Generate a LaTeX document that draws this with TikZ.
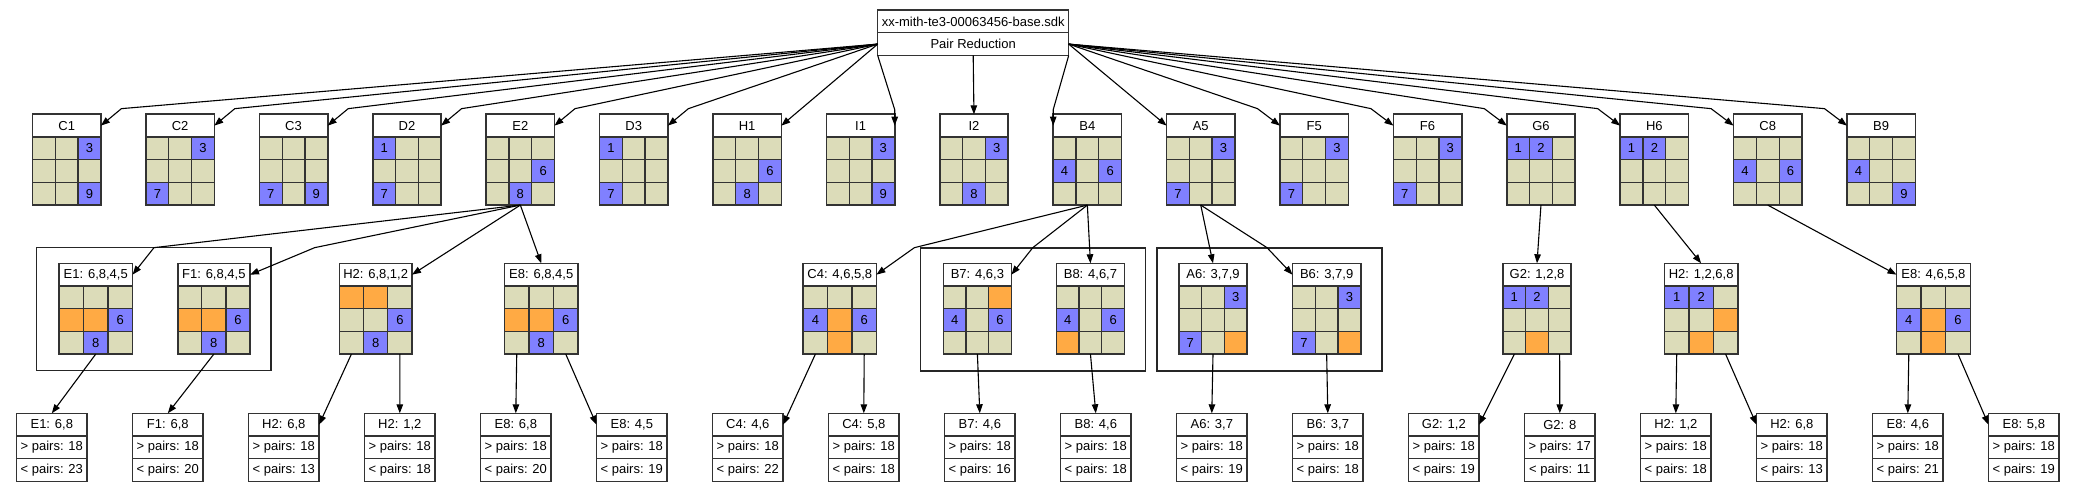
\documentclass[tikz,border=0pt]{standalone}
\usepackage{fontspec}
\setmainfont{Liberation Sans}
\usetikzlibrary{arrows.meta}

\definecolor{sand}{HTML}{DCDCB9}
\definecolor{clue}{HTML}{8080FF}
\definecolor{pair}{HTML}{FFAA44}
\definecolor{rim}{HTML}{333333}

\newcommand{\sdkboard}[6]{%
  \node[head, minimum width=#4pt] (#1-h) at ({#2+#4/2},{#3+11.35}) {#5};
  \foreach \f/\l [count=\i from 0] in {#6} {
    \pgfmathtruncatemacro\col{mod(\i,3)}
    \pgfmathtruncatemacro\row{div(\i,3)}
    \node[cell, fill=\f, minimum width=#4pt/3] (#1-\i)
      at ({#2+(\col+0.5)*#4/3},{#3+22.7+(\row+0.5)*22.7}) {\l};
  }
  \node[board, minimum width=#4pt] (#1) at ({#2+#4/2},{#3+45.4}) {};
}

\newcommand{\sdkleaf}[6]{%
  \node[head, minimum width=70.6pt] (#1) at ({#2+35.3},{#3+11.35}) {#4};
  \node[head, minimum width=70.6pt, anchor=north] (#1-gt) at (#1.south) {> pairs: #5};
  \node[head, minimum width=70.6pt, anchor=north] (#1-lt) at (#1-gt.south) {< pairs: #6};
}

\begin{document}
\begin{tikzpicture}[x=1pt, y=-1pt,
    every node/.style={font=\fontsize{13}{15}\selectfont},
    head/.style={draw=rim, fill=white, line width=1.4pt, minimum height=22.7pt, inner sep=0pt, outer sep=0pt},
    cell/.style={draw=rim, line width=1.3pt, minimum height=22.7pt, inner sep=0pt, outer sep=0pt},
    board/.style={draw=rim, line width=1.6pt, minimum height=90.8pt, inner sep=0pt, outer sep=0pt},
    cluster/.style={draw=black!85, line width=1.4pt},
    link/.style={draw=black, line width=1.1pt, -{Triangle[length=9pt, width=6.5pt]}}]
\useasboundingbox (0,0) rectangle (2075,492);

\node[head, minimum width=191pt] (top) at (973.2,21.4) {xx-mith-te3-00063456-base.sdk};
\node[head, minimum width=191pt, anchor=north] (red) at (top.south) {Pair Reduction};

\sdkboard{C1}{32.6}{114.3}{68.3}{C1}{sand/,sand/,clue/3,sand/,sand/,sand/,sand/,sand/,clue/9}
\sdkboard{C2}{146.0}{114.3}{68.3}{C2}{sand/,sand/,clue/3,sand/,sand/,sand/,clue/7,sand/,sand/}
\sdkboard{C3}{259.4}{114.3}{68.3}{C3}{sand/,sand/,sand/,sand/,sand/,sand/,clue/7,sand/,clue/9}
\sdkboard{D2}{372.8}{114.3}{68.3}{D2}{clue/1,sand/,sand/,sand/,sand/,sand/,clue/7,sand/,sand/}
\sdkboard{E2}{486.2}{114.3}{68.3}{E2}{sand/,sand/,sand/,sand/,sand/,clue/6,sand/,clue/8,sand/}
\sdkboard{D3}{599.6}{114.3}{68.3}{D3}{clue/1,sand/,sand/,sand/,sand/,sand/,clue/7,sand/,sand/}
\sdkboard{H1}{713.0}{114.3}{68.3}{H1}{sand/,sand/,sand/,sand/,sand/,clue/6,sand/,clue/8,sand/}
\sdkboard{I1}{826.4}{114.3}{68.3}{I1}{sand/,sand/,clue/3,sand/,sand/,sand/,sand/,sand/,clue/9}
\sdkboard{I2}{939.8}{114.3}{68.3}{I2}{sand/,sand/,clue/3,sand/,sand/,sand/,sand/,clue/8,sand/}
\sdkboard{B4}{1053.2}{114.3}{68.3}{B4}{sand/,sand/,sand/,clue/4,sand/,clue/6,sand/,sand/,sand/}
\sdkboard{A5}{1166.6}{114.3}{68.3}{A5}{sand/,sand/,clue/3,sand/,sand/,sand/,clue/7,sand/,sand/}
\sdkboard{F5}{1280.0}{114.3}{68.3}{F5}{sand/,sand/,clue/3,sand/,sand/,sand/,clue/7,sand/,sand/}
\sdkboard{F6}{1393.4}{114.3}{68.3}{F6}{sand/,sand/,clue/3,sand/,sand/,sand/,clue/7,sand/,sand/}
\sdkboard{G6}{1506.8}{114.3}{68.3}{G6}{clue/1,clue/2,sand/,sand/,sand/,sand/,sand/,sand/,sand/}
\sdkboard{H6}{1620.2}{114.3}{68.3}{H6}{clue/1,clue/2,sand/,sand/,sand/,sand/,sand/,sand/,sand/}
\sdkboard{C8}{1733.6}{114.3}{68.3}{C8}{sand/,sand/,sand/,clue/4,sand/,clue/6,sand/,sand/,sand/}
\sdkboard{B9}{1847.0}{114.3}{68.3}{B9}{sand/,sand/,sand/,clue/4,sand/,sand/,sand/,sand/,clue/9}

\draw[cluster] (36.6,247.7) rectangle (271,370.7);
\draw[cluster] (920.6,248) rectangle (1145.6,371);
\draw[cluster] (1156.8,248) rectangle (1382,371);

\sdkboard{E1}{58.9}{263.3}{73.7}{E1: 6,8,4,5}{sand/,sand/,sand/,pair/,pair/,clue/6,sand/,clue/8,sand/}
\sdkboard{F1}{177.7}{263.3}{72.3}{F1: 6,8,4,5}{sand/,sand/,sand/,pair/,pair/,clue/6,sand/,clue/8,sand/}
\sdkboard{H2}{339.3}{263.3}{72.7}{H2: 6,8,1,2}{pair/,pair/,sand/,sand/,sand/,clue/6,sand/,clue/8,sand/}
\sdkboard{E8}{504.5}{263.3}{73.5}{E8: 6,8,4,5}{sand/,sand/,sand/,pair/,pair/,clue/6,sand/,clue/8,sand/}
\sdkboard{C4}{803.2}{263.3}{73.2}{C4: 4,6,5,8}{sand/,sand/,sand/,clue/4,pair/,clue/6,sand/,pair/,sand/}
\sdkboard{B7}{943.4}{263.3}{68.0}{B7: 4,6,3}{sand/,sand/,pair/,clue/4,sand/,clue/6,sand/,sand/,sand/}
\sdkboard{B8}{1056.3}{263.3}{68.3}{B8: 4,6,7}{sand/,sand/,sand/,clue/4,sand/,clue/6,pair/,sand/,sand/}
\sdkboard{A6}{1179.0}{263.3}{68.0}{A6: 3,7,9}{sand/,sand/,clue/3,sand/,sand/,sand/,clue/7,sand/,pair/}
\sdkboard{B6}{1292.5}{263.3}{68.3}{B6: 3,7,9}{sand/,sand/,clue/3,sand/,sand/,sand/,clue/7,sand/,pair/}
\sdkboard{G2}{1503.0}{263.3}{68.0}{G2: 1,2,8}{clue/1,clue/2,sand/,sand/,sand/,sand/,sand/,pair/,sand/}
\sdkboard{H2b}{1664.5}{263.3}{73.3}{H2: 1,2,6,8}{clue/1,clue/2,sand/,sand/,sand/,pair/,sand/,pair/,sand/}
\sdkboard{E8b}{1896.5}{263.3}{73.8}{E8: 4,6,5,8}{sand/,sand/,sand/,clue/4,pair/,clue/6,sand/,pair/,sand/}

\sdkleaf{r0}{16.5}{413.3}{E1: 6,8}{18}{23}
\sdkleaf{r1}{132.5}{413.3}{F1: 6,8}{18}{20}
\sdkleaf{r2}{248.5}{413.3}{H2: 6,8}{18}{13}
\sdkleaf{r3}{364.5}{413.3}{H2: 1,2}{18}{18}
\sdkleaf{r4}{480.5}{413.3}{E8: 6,8}{18}{20}
\sdkleaf{r5}{596.5}{413.3}{E8: 4,5}{18}{19}
\sdkleaf{r6}{712.5}{413.3}{C4: 4,6}{18}{22}
\sdkleaf{r7}{828.5}{413.3}{C4: 5,8}{18}{18}
\sdkleaf{r8}{944.5}{413.3}{B7: 4,6}{18}{16}
\sdkleaf{r9}{1060.5}{413.3}{B8: 4,6}{18}{18}
\sdkleaf{r10}{1176.5}{413.3}{A6: 3,7}{18}{19}
\sdkleaf{r11}{1292.5}{413.3}{B6: 3,7}{18}{18}
\sdkleaf{r12}{1408.5}{413.3}{G2: 1,2}{18}{19}
\sdkleaf{r13}{1524.5}{413.3}{G2: 8}{17}{11}
\sdkleaf{r14}{1640.5}{413.3}{H2: 1,2}{18}{18}
\sdkleaf{r15}{1756.5}{413.3}{H2: 6,8}{18}{13}
\sdkleaf{r16}{1872.5}{413.3}{E8: 4,6}{18}{21}
\sdkleaf{r17}{1988.5}{413.3}{E8: 5,8}{18}{19}

\draw[link] (red.west) -- ([shift={(20.5,-17)}]C1-h.east) -- (C1-h.east);
\draw[link] (red.west) -- ([shift={(20.5,-17)}]C2-h.east) -- (C2-h.east);
\draw[link] (red.west) -- ([shift={(20.5,-17)}]C3-h.east) -- (C3-h.east);
\draw[link] (red.west) -- ([shift={(20.5,-17)}]D2-h.east) -- (D2-h.east);
\draw[link] (red.west) -- ([shift={(20.5,-17)}]E2-h.east) -- (E2-h.east);
\draw[link] (red.west) -- ([shift={(20.5,-17)}]D3-h.east) -- (D3-h.east);
\draw[link] (red.west) -- (H1-h.east);
\draw[link] (red.south west) -- ([shift={(0,-16)}]I1-h.east) -- (I1-h.east);
\draw[link] (red.south) -- (I2-h.north);
\draw[link] (red.south east) -- ([shift={(0,-16)}]B4-h.west) -- (B4-h.west);
\draw[link] (red.east) -- (A5-h.west);
\draw[link] (red.east) -- ([shift={(-22.5,-17)}]F5-h.west) -- (F5-h.west);
\draw[link] (red.east) -- ([shift={(-22.5,-17)}]F6-h.west) -- (F6-h.west);
\draw[link] (red.east) -- ([shift={(-22.5,-17)}]G6-h.west) -- (G6-h.west);
\draw[link] (red.east) -- ([shift={(-22.5,-17)}]H6-h.west) -- (H6-h.west);
\draw[link] (red.east) -- ([shift={(-22.5,-17)}]C8-h.west) -- (C8-h.west);
\draw[link] (red.east) -- ([shift={(-22.5,-17)}]B9-h.west) -- (B9-h.west);

\draw[link] (E2.south) -- ([shift={(21.4,-27)}]E1-h.east) -- (E1-h.east);
\draw[link] (E2.south) -- ([shift={(64.7,-27)}]F1-h.east) -- (F1-h.east);
\draw[link] (E2.south) -- (H2-h.east);
\draw[link] (E2.south) -- (E8-h.north);
\draw[link] (B4.south) -- ([shift={(38,-27)}]C4-h.east) -- (C4-h.east);
\draw[link] (B4.south) -- ([shift={(21.4,-27)}]B7-h.east) -- (B7-h.east);
\draw[link] (B4.south) -- (B8-h.north);
\draw[link] (A5.south) -- (A6-h.north);
\draw[link] (A5.south) -- ([shift={(-25.5,-27)}]B6-h.west) -- (B6-h.west);
\draw[link] (G6.south) -- (G2-h.north);
\draw[link] (H6.south) -- (H2b-h.north);
\draw[link] (C8.south) -- (E8b-h.west);

\draw[link] (E1.south) -- (r0.north);
\draw[link] (F1.south) -- (r1.north);
\draw[link] (H2-6.south) -- (r2.east);
\draw[link] (H2-8.south) -- (r3.north);
\draw[link] (E8-6.south) -- (r4.north);
\draw[link] (E8-8.south) -- (r5.west);
\draw[link] (C4-6.south) -- (r6.east);
\draw[link] (C4-8.south) -- (r7.north);
\draw[link] (B7.south) -- (r8.north);
\draw[link] (B8.south) -- (r9.north);
\draw[link] (A6.south) -- (r10.north);
\draw[link] (B6.south) -- (r11.north);
\draw[link] (G2-6.south) -- (r12.east);
\draw[link] (G2-8.south) -- (r13.north);
\draw[link] (H2b-6.south) -- (r14.north);
\draw[link] (H2b-8.south) -- (r15.west);
\draw[link] (E8b-6.south) -- (r16.north);
\draw[link] (E8b-8.south) -- (r17.west);
\end{tikzpicture}
\end{document}
